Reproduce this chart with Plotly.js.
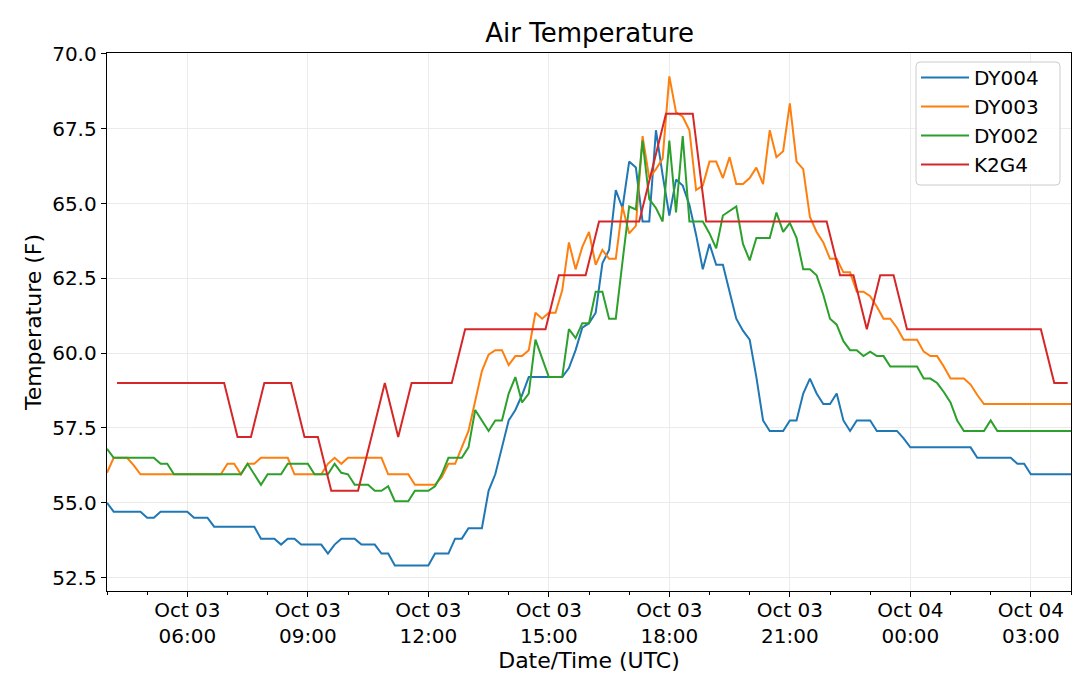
<!DOCTYPE html>
<html>
<head>
<meta charset="utf-8">
<script src="https://cdn.plot.ly/plotly-3.0.1.min.js"></script>
<style>
  html, body { margin: 0; padding: 0; background: #ffffff; }
  #chart { width: 1079px; height: 673px; }
</style>
</head>
<body>
<div id="chart"></div>
<script>
// ---- data (10-minute readings starting Oct 03 04:00 UTC) ----
const seriesStart = '2019-10-03 04:00';
const stepMinutes = 10;
const k2g4Start = '2019-10-03 04:15';
const k2g4StepMinutes = 20;

const dy004 = [
  55.0, 54.7, 54.7, 54.7, 54.7, 54.7, 54.5, 54.5, 54.7, 54.7,
  54.7, 54.7, 54.7, 54.5, 54.5, 54.5, 54.2, 54.2, 54.2, 54.2,
  54.2, 54.2, 54.2, 53.8, 53.8, 53.8, 53.6, 53.8, 53.8, 53.6,
  53.6, 53.6, 53.6, 53.3, 53.6, 53.8, 53.8, 53.8, 53.6, 53.6,
  53.6, 53.3, 53.3, 52.9, 52.9, 52.9, 52.9, 52.9, 52.9, 53.3,
  53.3, 53.3, 53.8, 53.8, 54.15, 54.15, 54.15, 55.4, 55.95, 56.85,
  57.75, 58.1, 58.6, 59.2, 59.2, 59.2, 59.2, 59.2, 59.2, 59.5,
  60.1, 60.85, 61.0, 61.35, 63.0, 63.45, 65.45, 64.85, 66.4, 66.2,
  64.4, 64.4, 67.45, 65.95, 64.6, 65.8, 65.6, 64.95, 63.95, 62.8,
  63.65, 62.95, 62.95, 62.05, 61.15, 60.75, 60.45, 59.2, 57.75, 57.4,
  57.4, 57.4, 57.75, 57.75, 58.65, 59.15, 58.65, 58.3, 58.3, 58.65,
  57.75, 57.4, 57.75, 57.75, 57.75, 57.4, 57.4, 57.4, 57.4, 57.15,
  56.85, 56.85, 56.85, 56.85, 56.85, 56.85, 56.85, 56.85, 56.85, 56.85,
  56.5, 56.5, 56.5, 56.5, 56.5, 56.5, 56.3, 56.3, 55.95, 55.95,
  55.95, 55.95, 55.95, 55.95, 55.95
];

const dy003 = [
  56.0, 56.5, 56.5, 56.5, 56.25, 55.95, 55.95, 55.95, 55.95, 55.95,
  55.95, 55.95, 55.95, 55.95, 55.95, 55.95, 55.95, 55.95, 56.3, 56.3,
  55.95, 56.3, 56.3, 56.5, 56.5, 56.5, 56.5, 56.5, 55.95, 55.95,
  55.95, 55.95, 55.95, 56.3, 56.5, 56.3, 56.5, 56.5, 56.5, 56.5,
  56.5, 56.5, 55.95, 55.95, 55.95, 55.95, 55.6, 55.6, 55.6, 55.6,
  55.85, 56.3, 56.3, 56.85, 57.4, 58.4, 59.4, 59.95, 60.1, 60.1,
  59.6, 59.9, 59.9, 60.1, 61.35, 61.15, 61.35, 61.35, 62.1, 63.7,
  62.8, 63.55, 64.05, 62.95, 63.45, 63.15, 63.15, 64.9, 64.0, 64.25,
  67.25, 65.85, 66.15, 66.5, 69.25, 68.05, 67.9, 67.45, 65.45, 65.6,
  66.4, 66.4, 65.85, 66.55, 65.65, 65.65, 65.85, 66.2, 65.65, 67.45,
  66.55, 66.75, 68.35, 66.4, 66.15, 64.55, 64.05, 63.7, 63.15, 63.15,
  62.7, 62.7, 62.05, 62.05, 61.9, 61.55, 61.15, 61.15, 60.85, 60.45,
  60.45, 60.45, 60.05, 59.9, 59.9, 59.55, 59.15, 59.15, 59.15, 58.95,
  58.6, 58.3, 58.3, 58.3, 58.3, 58.3, 58.3, 58.3, 58.3, 58.3,
  58.3, 58.3, 58.3, 58.3, 58.3
];

const dy002 = [
  56.8, 56.5, 56.5, 56.5, 56.5, 56.5, 56.5, 56.5, 56.3, 56.3,
  55.95, 55.95, 55.95, 55.95, 55.95, 55.95, 55.95, 55.95, 55.95, 55.95,
  55.95, 56.3, 55.95, 55.6, 55.95, 55.95, 55.95, 56.3, 56.3, 56.3,
  56.3, 55.95, 55.95, 55.95, 56.3, 56.0, 55.95, 55.6, 55.6, 55.6,
  55.4, 55.4, 55.55, 55.05, 55.05, 55.05, 55.4, 55.4, 55.4, 55.55,
  55.95, 56.5, 56.5, 56.5, 56.85, 58.1, 57.75, 57.4, 57.75, 57.75,
  58.65, 59.2, 58.35, 58.65, 60.45, 59.85, 59.2, 59.2, 59.2, 60.8,
  60.5, 61.0, 61.0, 62.05, 62.05, 61.15, 61.15, 63.05, 64.9, 64.8,
  67.1, 65.15, 64.85, 64.4, 67.1, 64.7, 67.25, 64.4, 64.4, 64.4,
  64.0, 63.5, 64.6, 64.75, 64.9, 63.65, 63.1, 63.85, 63.85, 63.85,
  64.7, 64.05, 64.35, 63.85, 62.8, 62.8, 62.6, 61.95, 61.15, 60.95,
  60.4, 60.1, 60.1, 59.9, 60.05, 59.9, 59.9, 59.55, 59.55, 59.55,
  59.55, 59.55, 59.15, 59.15, 59.0, 58.7, 58.35, 57.75, 57.4, 57.4,
  57.4, 57.4, 57.75, 57.4, 57.4, 57.4, 57.4, 57.4, 57.4, 57.4,
  57.4, 57.4, 57.4, 57.4, 57.4
];

// K2G4: 20-minute readings at :15, :35, :55 from Oct 03 04:15 to Oct 04 03:55
const k2g4 = [
  59.0, 59.0, 59.0, 59.0, 59.0, 59.0, 59.0, 59.0, 59.0, 57.2,
  57.2, 59.0, 59.0, 59.0, 57.2, 57.2, 55.4, 55.4, 55.4, 57.2,
  59.0, 57.2, 59.0, 59.0, 59.0, 59.0, 60.8, 60.8, 60.8, 60.8,
  60.8, 60.8, 60.8, 62.6, 62.6, 62.6, 64.4, 64.4, 64.4, 64.4,
  66.2, 68.0, 68.0, 68.0, 64.4, 64.4, 64.4, 64.4, 64.4, 64.4,
  64.4, 64.4, 64.4, 64.4, 62.6, 62.6, 60.8, 62.6, 62.6, 60.8,
  60.8, 60.8, 60.8, 60.8, 60.8, 60.8, 60.8, 60.8, 60.8, 60.8,
  59.0, 59.0
];

const seriesNames = ['DY004', 'DY003', 'DY002', 'K2G4'];
const seriesColors = ['#1f77b4', '#ff7f0e', '#2ca02c', '#d62728'];

const xRange = ['2019-10-03 04:00', '2019-10-04 04:00'];
const xTickVals = [
  '2019-10-03 06:00', '2019-10-03 09:00', '2019-10-03 12:00', '2019-10-03 15:00',
  '2019-10-03 18:00', '2019-10-03 21:00', '2019-10-04 00:00', '2019-10-04 03:00'
];
const xTickText = [
  'Oct 03<br>06:00', 'Oct 03<br>09:00', 'Oct 03<br>12:00', 'Oct 03<br>15:00',
  'Oct 03<br>18:00', 'Oct 03<br>21:00', 'Oct 04<br>00:00', 'Oct 04<br>03:00'
];
const yRange = [52.05, 70.03];

// ---- build timestamps (UTC, ms) ----
function toMs(s) {
  const [d, t] = s.split(' ');
  const [Y, M, D] = d.split('-').map(Number);
  const [h, m] = t.split(':').map(Number);
  return Date.UTC(Y, M - 1, D, h, m);
}
function times(start, stepMin, n) {
  const t0 = toMs(start);
  const out = [];
  for (let i = 0; i < n; i++) out.push(t0 + i * stepMin * 60000);
  return out;
}

const xDY = times(seriesStart, stepMinutes, dy004.length);
const xK = times(k2g4Start, k2g4StepMinutes, k2g4.length);
const ys = [dy004, dy003, dy002, k2g4];
const xs = [xDY, xDY, xDY, xK];

const FONT = 'DejaVu Sans, Liberation Sans, sans-serif';

const traces = ys.map((y, k) => ({
  type: 'scatter',
  mode: 'lines',
  x: xs[k],
  y: y,
  name: seriesNames[k],
  legendgroup: seriesNames[k],
  line: { color: seriesColors[k], width: 2 },
  hoverinfo: 'skip'
}));

// legend frame (rounded box) in paper coordinates
const PW = 964, PH = 538;           // plot area size in px
const bx0 = 809 / PW, bx1 = 953 / PW; // box left/right
const by1 = 1 - 9 / PH, by0 = 1 - 132 / PH; // box top/bottom
const rx = 4 / PW, ry = 4 / PH;
const boxPath =
  `M ${bx0 + rx},${by1} L ${bx1 - rx},${by1} Q ${bx1},${by1} ${bx1},${by1 - ry} ` +
  `L ${bx1},${by0 + ry} Q ${bx1},${by0} ${bx1 - rx},${by0} ` +
  `L ${bx0 + rx},${by0} Q ${bx0},${by0} ${bx0},${by0 + ry} ` +
  `L ${bx0},${by1 - ry} Q ${bx0},${by1} ${bx0 + rx},${by1} Z`;

const layout = {
  width: 1079,
  height: 673,
  margin: { l: 107, r: 8, t: 53, b: 82, pad: 0 },
  paper_bgcolor: '#ffffff',
  plot_bgcolor: '#ffffff',
  font: { family: FONT, size: 20, color: '#000000' },
  title: {
    text: 'Air Temperature',
    font: { family: FONT, size: 26, color: '#000000' },
    x: 0.5465, xanchor: 'center',
    yref: 'container',
    y: 0.951, yanchor: 'middle'
  },
  shapes: [{
    type: 'path',
    xref: 'paper', yref: 'paper',
    path: boxPath,
    fillcolor: 'rgba(255,255,255,0.8)',
    line: { color: '#cccccc', width: 1 },
    layer: 'above'
  }],
  showlegend: true,
  legend: {
    x: bx0, xanchor: 'left',
    y: 1 - 5 / PH, yanchor: 'top',
    bgcolor: 'rgba(0,0,0,0)',
    borderwidth: 0,
    font: { family: FONT, size: 20, color: '#000000' },
    tracegroupgap: 0,
    itemwidth: 48
  },
  xaxis: {
    type: 'date',
    range: xRange.map(toMs),
    tickmode: 'array',
    tickvals: xTickVals.map(toMs),
    ticktext: xTickText,
    ticks: 'outside',
    ticklen: 5,
    tickwidth: 1,
    tickcolor: '#000000',
    ticklabelstandoff: -4,
    showline: true,
    mirror: true,
    linecolor: '#000000',
    linewidth: 1.3,
    showgrid: true,
    gridcolor: '#ebebeb',
    gridwidth: 1,
    zeroline: false,
    tickfont: { family: FONT, size: 20, color: '#000000' },
    title: { text: 'Date/Time (UTC)', font: { family: FONT, size: 22, color: '#000000' }, standoff: 0 },
    minor: {
      tickmode: 'linear',
      tick0: toMs(seriesStart),
      dtick: 3600000,
      ticks: 'outside',
      ticklen: 3,
      tickwidth: 1,
      tickcolor: '#000000',
      showgrid: false
    }
  },
  yaxis: {
    range: yRange,
    tickmode: 'linear',
    tick0: 52.5,
    dtick: 2.5,
    tickformat: '.1f',
    ticks: 'outside',
    ticklen: 5,
    tickwidth: 1,
    tickcolor: '#000000',
    showline: true,
    mirror: true,
    linecolor: '#000000',
    linewidth: 1.3,
    showgrid: true,
    gridcolor: '#ebebeb',
    gridwidth: 1,
    zeroline: false,
    tickfont: { family: FONT, size: 20, color: '#000000' },
    title: { text: 'Temperature (F)', font: { family: FONT, size: 22, color: '#000000' }, standoff: 4 }
  }
};

Plotly.newPlot('chart', traces, layout, { displayModeBar: false, staticPlot: true });
</script>
</body>
</html>
